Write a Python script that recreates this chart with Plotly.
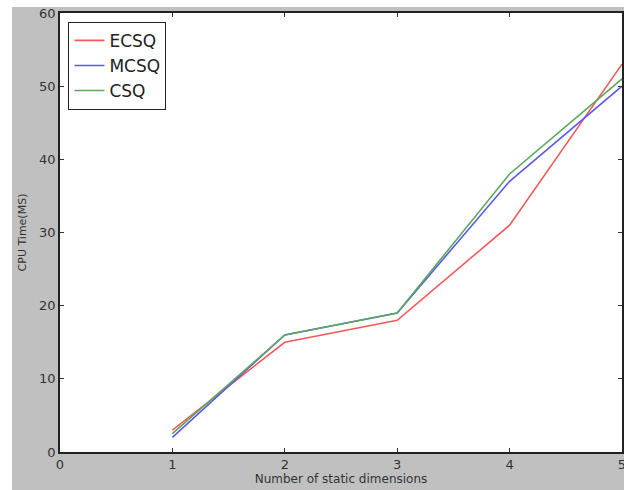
import plotly.graph_objects as go

x_vals = [1, 2, 3, 4, 5]
ecsq = [3, 15, 18, 31, 53]
mcsq = [2, 16, 19, 37, 50]
csq = [2.5, 16, 19, 38, 51]
series_names = ["ECSQ", "MCSQ", "CSQ"]
colors = ["#f25a5a", "#5a5af2", "#5aa85a"]

fig = go.Figure()
for name, ys, c in zip(series_names, [ecsq, mcsq, csq], colors):
    fig.add_trace(go.Scatter(x=x_vals, y=ys, mode="lines", name=name,
                             line=dict(color=c, width=1.6)))

W, H = 624, 490
ml, mr, mt, mb = 60, 2, 13, 38
pw = W - ml - mr
ph = H - mt - mb

def px_to_paper_x(p):
    return (p - ml) / pw

def px_to_paper_y(p):
    return (H - mb - p) / ph

# white strips at the top and left of the grey figure background
fig.add_shape(type="rect", xref="paper", yref="paper", layer="below",
              x0=px_to_paper_x(-5), x1=px_to_paper_x(630),
              y0=px_to_paper_y(7), y1=px_to_paper_y(-5),
              fillcolor="white", line=dict(width=0))
fig.add_shape(type="rect", xref="paper", yref="paper", layer="below",
              x0=px_to_paper_x(-5), x1=px_to_paper_x(12),
              y0=px_to_paper_y(495), y1=px_to_paper_y(-5),
              fillcolor="white", line=dict(width=0))

axis_common = dict(showgrid=False, zeroline=False, showline=True, linecolor="#222",
                   linewidth=1.5, mirror="allticks", ticks="inside", ticklen=4,
                   tickcolor="#333", automargin=False, ticklabeloverflow="allow",
                   tickfont=dict(family="DejaVu Sans", size=13, color="#333"))

fig.update_xaxes(range=[0, 5], dtick=1, title=dict(text="Number of static dimensions",
                 font=dict(family="DejaVu Sans", size=12, color="#333"), standoff=2),
                 **axis_common)
fig.update_yaxes(range=[0, 60], dtick=10, title=dict(text="CPU Time(MS)",
                 font=dict(family="DejaVu Sans", size=11, color="#333"), standoff=10),
                 **axis_common)

fig.update_layout(
    width=W, height=H,
    margin=dict(l=ml, r=mr, t=mt, b=mb),
    paper_bgcolor="#c0c0c0", plot_bgcolor="white",
    showlegend=True,
    legend=dict(x=0.015, y=0.98, xanchor="left", yanchor="top",
                bordercolor="#222", borderwidth=1, bgcolor="white",
                font=dict(family="DejaVu Sans", size=17, color="#222"),
                itemwidth=30, tracegroupgap=0),
)

fig.write_html("out.html", config={"displayModeBar": False},
               post_script="document.body.style.margin='0px';")
